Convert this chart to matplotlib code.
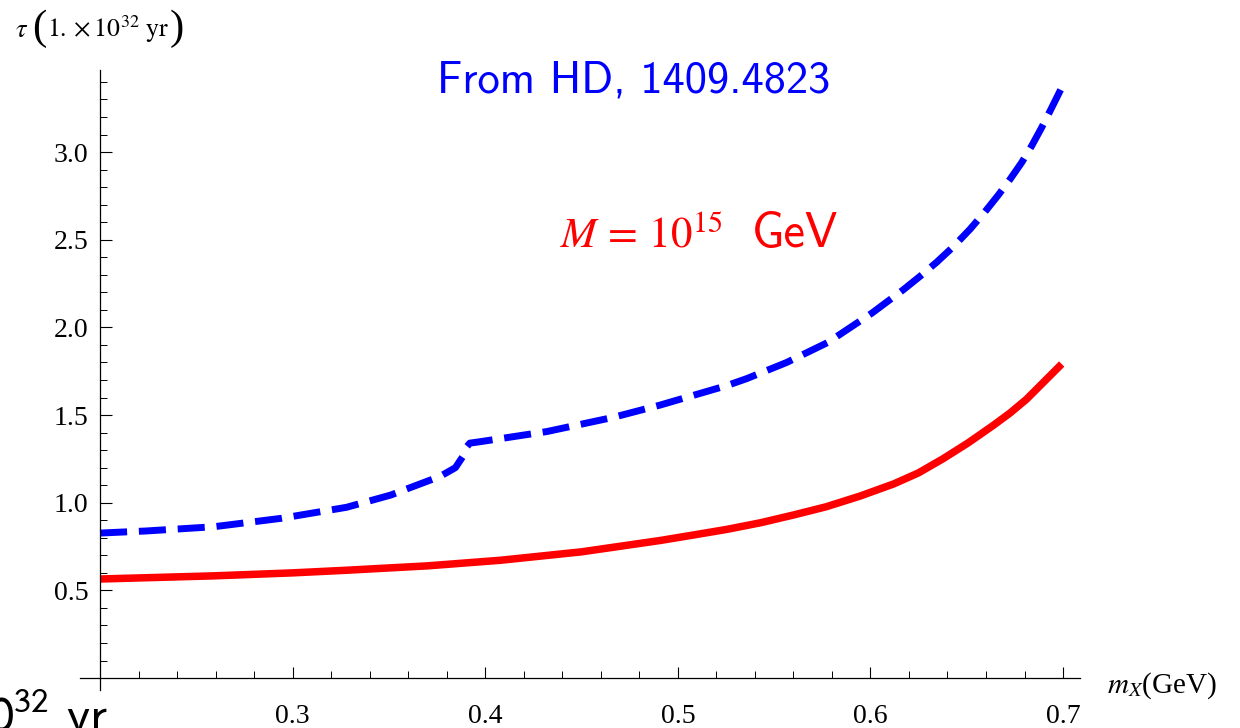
import numpy as np
import matplotlib
matplotlib.use("Agg")
import matplotlib.pyplot as plt
from matplotlib.ticker import MultipleLocator, FixedLocator

# values
m_red = [0.200, 0.259, 0.300, 0.328, 0.370, 0.408, 0.450, 0.491, 0.5081,
         0.5254, 0.543, 0.560, 0.577, 0.5946, 0.612, 0.6249, 0.638, 0.6508,
         0.664, 0.6725, 0.681, 0.6993]
tau_red = [0.565, 0.583, 0.600, 0.615, 0.640, 0.672, 0.720, 0.785, 0.816,
           0.848, 0.886, 0.930, 0.977, 1.038, 1.107, 1.170, 1.253, 1.342,
           1.443, 1.512, 1.590, 1.791]

m_blue = [0.200, 0.224, 0.259, 0.294, 0.328, 0.351, 0.362, 0.3765, 0.3845,
          0.3885, 0.3905, 0.392, 0.3973, 0.432, 0.4665, 0.4908, 0.5254, 0.5358,
          0.5565, 0.578, 0.6007, 0.6085, 0.6171, 0.6258, 0.6344, 0.6431, 0.6517,
          0.6595, 0.6664, 0.6725, 0.6785, 0.6837, 0.6889, 0.6933, 0.6976, 0.6995]
tau_blue = [0.827, 0.839, 0.863, 0.911, 0.974, 1.044, 1.09, 1.15, 1.20,
            1.266, 1.32, 1.34, 1.348, 1.406, 1.487, 1.557, 1.668, 1.708,
            1.800, 1.915, 2.081, 2.145, 2.215, 2.292, 2.372, 2.461, 2.560,
            2.660, 2.755, 2.845, 2.940, 3.035, 3.140, 3.235, 3.330, 3.372]

x_major = [0.3, 0.4, 0.5, 0.6, 0.7]
y_major = [0.5, 1.0, 1.5, 2.0, 2.5, 3.0]

W, H = 1240, 728
fig = plt.figure(figsize=(W / 100, H / 100), dpi=100)
# axes box in pixels: x 80..1080, y 70..690
ax = fig.add_axes([80 / W, 1 - 690 / H, 1000 / W, 620 / H])
ax.set_xlim(0.1896, 0.7088)
ax.set_ylim(-0.068, 3.468)

ax.plot(m_red, tau_red, color="#ff0000", lw=5.4, solid_capstyle="butt",
        solid_joinstyle="round")
ax.plot(m_blue, tau_blue, color="#0000ff", lw=5.0, linestyle=(0, (3.9, 1.7)),
        dash_joinstyle="round")

for s in ["top", "right"]:
    ax.spines[s].set_visible(False)
ax.spines["left"].set_position(("data", 0.2))
ax.spines["bottom"].set_position(("data", 0.0))
for s in ["left", "bottom"]:
    ax.spines[s].set_linewidth(0.9)

ax.xaxis.set_major_locator(FixedLocator(x_major))
ax.xaxis.set_minor_locator(MultipleLocator(0.02))
ax.yaxis.set_major_locator(FixedLocator(y_major))
ax.yaxis.set_minor_locator(MultipleLocator(0.1))
ax.set_xticklabels(["%.1f" % v for v in x_major])
ax.set_yticklabels(["%.1f" % v for v in y_major])

ax.tick_params(axis="x", which="major", direction="in", length=8, width=0.8, pad=19)
ax.tick_params(axis="y", which="major", direction="in", length=8.5, width=0.8, pad=8.5)
ax.tick_params(which="minor", direction="in", length=5.2, width=0.7)
for lab in ax.get_xticklabels() + ax.get_yticklabels():
    lab.set_family("Liberation Serif")
    lab.set_fontsize(20)

# y label: tau with tall parentheses
base = 1 - 37 / H
fig.text(15 / W, base, r"$\tau$", fontsize=19, math_fontfamily="stix",
         ha="left", va="baseline")
fig.text(32 / W, 1 - 39 / H, "(", family="Liberation Serif", fontsize=31,
         ha="left", va="baseline")
inner = fig.text(47 / W, base, r"$1.\times10^{32}\ \mathrm{yr}$", fontsize=18.5,
                 math_fontfamily="stix", ha="left", va="baseline")
fig.canvas.draw()
right_px = inner.get_window_extent().x1
fig.text((right_px + 1) / W, 1 - 39 / H, ")", family="Liberation Serif",
         fontsize=31, ha="left", va="baseline")

fig.text(1107 / W, 1 - 693 / H, r"$m_X$(GeV)", family="Liberation Serif",
         math_fontfamily="stix", fontsize=21, ha="left", va="baseline")

fig.text(437 / W, 1 - 93 / H, "From HD, 1409.4823", family="cmss10",
         fontsize=32, color="#0000ff", ha="left", va="baseline")
fig.text(560 / W, 1 - 247 / H, r"$M\,=\,10^{15}$", math_fontfamily="stix",
         fontsize=31, color="#ff0000", ha="left", va="baseline")
fig.text(752 / W, 1 - 247 / H, "GeV", family="cmss10",
         fontsize=35, color="#ff0000", ha="left", va="baseline")

# clipped fragment at the lower left edge
fig.text(108 / W, 1 - 731 / H, r"$10^{32}$ yr", family="cmss10",
         math_fontfamily="stixsans", fontsize=36, color="black", ha="right", va="baseline")

fig.savefig("out.png", dpi=100)
